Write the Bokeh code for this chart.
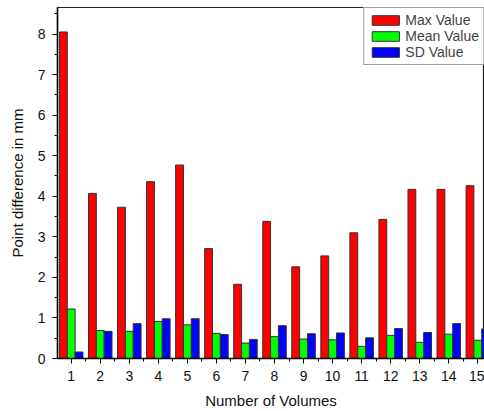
from bokeh.plotting import figure
from bokeh.models import FixedTicker, ColumnDataSource, Range1d, Legend, LegendItem
from bokeh.embed import file_html
from bokeh.resources import INLINE

volumes = list(range(1, 16))
max_value = [8.05, 4.07, 3.73, 4.36, 4.77, 2.71, 1.83, 3.38, 2.26, 2.53, 3.10, 3.43, 4.17, 4.17, 4.26]
mean_value = [1.22, 0.69, 0.67, 0.91, 0.83, 0.62, 0.38, 0.54, 0.48, 0.46, 0.30, 0.57, 0.40, 0.60, 0.45]
sd_value = [0.16, 0.67, 0.86, 0.98, 0.98, 0.59, 0.47, 0.81, 0.61, 0.63, 0.51, 0.74, 0.64, 0.86, 0.73]
y_ticks = list(range(0, 9))

FONT = "Liberation Sans"
bw = 0.27

p = figure(width=484, height=411, output_backend="svg", toolbar_location=None,
           x_range=Range1d(0.528, 15.23), y_range=Range1d(0, 8.654),
           min_border_left=57, min_border_right=0, min_border_top=7, min_border_bottom=53)
p.background_fill_color = "white"
p.border_fill_color = "white"
p.outline_line_color = "#222222"
p.outline_line_width = 1.2
p.grid.visible = False

src = ColumnDataSource(dict(
    xr=[v - bw for v in volumes], xg=[v for v in volumes], xb=[v + bw for v in volumes],
    mx=max_value, mn=mean_value, sd=sd_value))
r1 = p.vbar(x="xr", top="mx", width=bw, source=src, fill_color="#ff0000", line_color="#333333", line_width=1)
r2 = p.vbar(x="xg", top="mn", width=bw, source=src, fill_color="#00ff00", line_color="#333333", line_width=1)
r3 = p.vbar(x="xb", top="sd", width=bw, source=src, fill_color="#0000ff", line_color="#333333", line_width=1)

p.xaxis.ticker = FixedTicker(ticks=volumes, minor_ticks=[v + 0.5 for v in range(0, 16)])
p.yaxis.ticker = FixedTicker(ticks=y_ticks, minor_ticks=[v + 0.5 for v in range(0, 9)])
for ax in (p.xaxis, p.yaxis):
    ax.axis_line_color = "black"
    ax.axis_line_width = 1.5
    ax.major_tick_line_color = "black"
    ax.minor_tick_line_color = "black"
    ax.major_tick_out = 5
    ax.major_tick_in = 0
    ax.minor_tick_out = 3
    ax.minor_tick_in = 0
    ax.major_label_text_font = FONT
    ax.major_label_text_font_size = "14px"
    ax.major_label_text_color = "#111111"
    ax.axis_label_text_font = FONT
    ax.axis_label_text_font_size = "15px"
    ax.axis_label_text_font_style = "normal"
    ax.axis_label_text_color = "#111111"
p.xaxis.axis_label = "Number of Volumes"
p.yaxis.axis_label = "Point difference in mm"
p.xaxis.major_label_standoff = 7
p.xaxis.axis_label_standoff = 8
p.yaxis.major_label_standoff = 7
p.yaxis.axis_label_standoff = 9

legend = Legend(items=[LegendItem(label="Max Value", renderers=[r1]),
                       LegendItem(label="Mean Value", renderers=[r2]),
                       LegendItem(label="SD Value", renderers=[r3])],
                location="top_right", margin=0, padding=4, spacing=0,
                glyph_width=34, glyph_height=12, label_standoff=3,
                label_text_font=FONT, label_text_font_size="14px", label_height=12,
                border_line_color="#444444", border_line_width=1.2,
                background_fill_alpha=1)
p.add_layout(legend)

open("out.html", "w").write(file_html(p, INLINE))
